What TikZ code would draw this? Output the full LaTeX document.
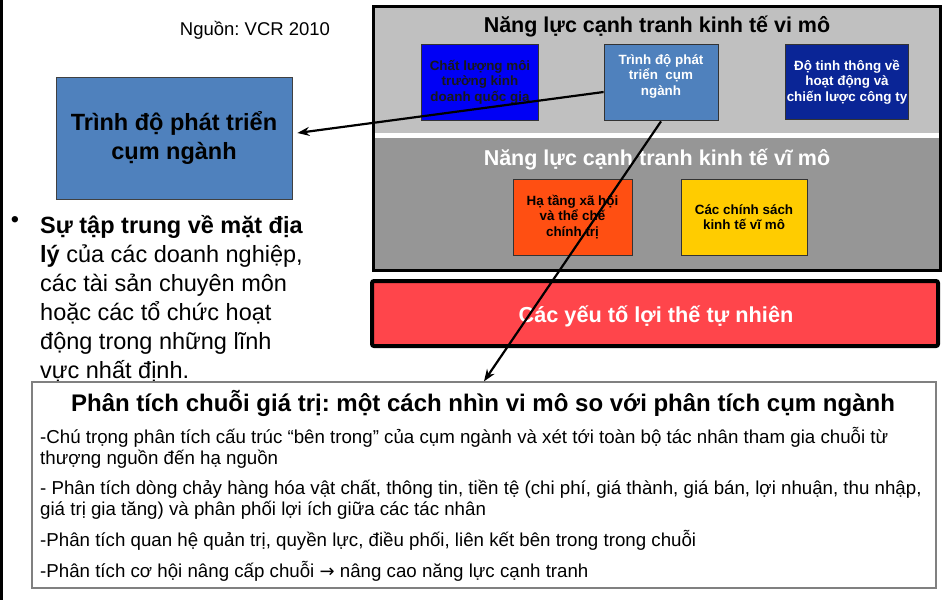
\documentclass[tikz,border=0pt]{standalone}
\usepackage{fontspec}
\setmainfont{Liberation Sans}
\newfontfamily\symbolfont{DejaVu Sans}
\usetikzlibrary{arrows.meta,calc}
\definecolor{bigblue}{HTML}{4F81BD}
\definecolor{microgray}{HTML}{C0C0C0}
\definecolor{macrogray}{HTML}{969696}
\definecolor{brightblue}{HTML}{0000F5}
\definecolor{navyblue}{HTML}{0A2596}
\definecolor{orangered}{HTML}{FF4F12}
\definecolor{gold}{HTML}{FFCC00}
\definecolor{natred}{HTML}{FF454B}
\definecolor{edgegray}{HTML}{808080}
\begin{document}
\frenchspacing
\begin{tikzpicture}[x=1pt,y=-1pt,
  innerbox/.style={draw=black!80, line width=0.8pt, inner sep=1pt, align=center,
    font=\fontsize{13.4}{15.5}\selectfont\bfseries},
  boxtitle/.style={font=\fontsize{21.5}{24}\selectfont\bfseries, inner sep=0pt},
  bulletline/.style={anchor=base west, inner sep=0pt, font=\fontsize{23.5}{29}\selectfont},
  itemline/.style={anchor=base west, inner sep=0pt, font=\fontsize{18.7}{20}\selectfont},
  connector/.style={line width=2.2pt, -{Stealth[length=12pt,width=9pt]}}]
\useasboundingbox (0,0) rectangle (946,600);
% left edge line
\draw[line width=3pt] (1.5,0) -- (1.5,600);
% source
\node[font=\fontsize{18.5}{22}\selectfont, inner sep=0pt] (source) at (255,30) {Nguồn: VCR 2010};
% big cluster box
\node[draw=black!75, line width=0.8pt, fill=bigblue, minimum width=236pt, minimum height=122pt,
  align=center, font=\fontsize{23.5}{29}\selectfont\bfseries] (bigbox) at (174,138)
  {Trình độ phát triển\\cụm ngành};
% bullet text
\node[font=\fontsize{23.5}{29}\selectfont, inner sep=0pt] (dot) at (15,222) {•};
\node[bulletline] (b1) at (40,233) {\textbf{Sự tập trung về mặt địa}};
\node[bulletline] (b2) at (40,262) {\textbf{lý} của các doanh nghiệp,};
\node[bulletline] (b3) at (40,291) {các tài sản chuyên môn};
\node[bulletline] (b4) at (40,320) {hoặc các tổ chức hoạt};
\node[bulletline] (b5) at (40,349) {động trong những lĩnh};
\node[bulletline] (b6) at (40,378) {vực nhất định.};
% micro / macro frame
\fill[microgray] (373,6) rectangle (940,133);
\fill[white] (373,133) rectangle (940,138);
\fill[macrogray] (373,138) rectangle (940,270);
\draw[line width=3pt] (373,6) rectangle (940,270);
\node[boxtitle] (microtitle) at (657,27) {Năng lực cạnh tranh kinh tế vi mô};
\node[boxtitle, text=white] (macrotitle) at (657,160) {Năng lực cạnh tranh kinh tế vĩ mô};
\node[innerbox, fill=brightblue, text=black!90, minimum width=117pt, minimum height=76pt] (envq) at (480,82)
  {Chất lượng môi\\trường kinh\\doanh quốc gia};
\node[innerbox, fill=bigblue, minimum width=114pt, minimum height=76pt] (cluster) at (661,82) {};
\node[align=center, text=white, inner sep=0pt, font=\fontsize{13.4}{15.5}\selectfont\bfseries] (clustertext) at (661,76)
  {Trình độ phát\\triển\ \ cụm\\ngành};
\node[innerbox, fill=navyblue, text=white, minimum width=120pt, minimum height=75pt] (firm) at (847,82)
  {Độ tinh thông về\\hoạt động và\\chiến lược công ty};
\node[innerbox, fill=orangered, text=black, minimum width=119pt, minimum height=76pt] (infra) at (572.5,217)
  {Hạ tầng xã hội\\và thể chế\\chính trị};
\node[innerbox, fill=gold, text=black, minimum width=126pt, minimum height=76pt] (policy) at (744,217)
  {Các chính sách\\kinh tế vĩ mô};
% natural factors
\node[draw=black, line width=4pt, rounded corners=2pt, fill=natred, minimum width=566pt, minimum height=65pt] (natural) at (655,313.5) {};
\node[text=white, inner sep=0pt, font=\fontsize{21.7}{24}\selectfont\bfseries] (naturaltext) at (656,316) {Các yếu tố lợi thế tự nhiên};
% bottom box
\node[draw=edgegray, line width=1.3pt, fill=white, minimum width=904pt, minimum height=206pt] (botbox) at (484,485) {};
\node[font=\fontsize{24}{26}\selectfont\bfseries, anchor=base, inner sep=0pt] (bottitle) at (483,411)
  {Phân tích chuỗi giá trị: một cách nhìn vi mô so với phân tích cụm ngành};
\node[itemline] (i1a) at (40,443) {-Chú trọng phân tích cấu trúc “bên trong” của cụm ngành và xét tới toàn bộ tác nhân tham gia chuỗi từ};
\node[itemline] (i1b) at (40,464) {thượng nguồn đến hạ nguồn};
\node[itemline] (i2a) at (40,494) {- Phân tích dòng chảy hàng hóa vật chất, thông tin, tiền tệ (chi phí, giá thành, giá bán, lợi nhuận, thu nhập,};
\node[itemline] (i2b) at (40,515) {giá trị gia tăng) và phân phối lợi ích giữa các tác nhân};
\node[itemline] (i3) at (40,546) {-Phân tích quan hệ quản trị, quyền lực, điều phối, liên kết bên trong trong chuỗi};
\node[itemline] (i4) at (40,577) {-Phân tích cơ hội nâng cấp chuỗi {\symbolfont\fontsize{18}{20}\selectfont →} nâng cao năng lực cạnh tranh};
% connectors
\draw[connector] ($(cluster.west)+(0,10)$) -- ($(bigbox.east)+(5,-5)$);
\draw[connector] ($(cluster.south)+(0,1)$) -- (botbox.north);
\end{tikzpicture}
\end{document}
